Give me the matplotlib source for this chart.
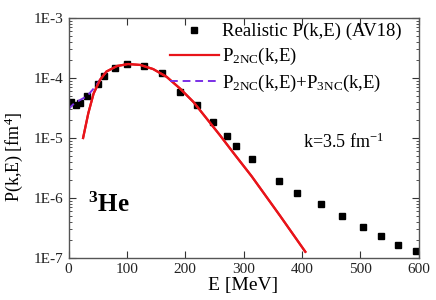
import matplotlib
matplotlib.use("Agg")
import matplotlib.pyplot as plt

plt.rcParams['font.family'] = ['Liberation Serif', 'DejaVu Serif']
plt.rcParams['mathtext.fontset'] = 'custom'
plt.rcParams['mathtext.rm'] = 'Liberation Serif'
plt.rcParams['mathtext.it'] = 'Liberation Serif:italic'
plt.rcParams['mathtext.bf'] = 'Liberation Serif:bold'

# realistic P(k,E) (AV18) points
e_real = [5, 12, 20, 32, 50, 61, 79, 100, 130, 160, 191, 221, 247, 271, 287,
          314, 361, 392, 432, 468, 505, 536, 564, 596]
p_real = [4.0e-5, 3.6e-5, 3.8e-5, 5.1e-5, 7.85e-5, 1.08e-4, 1.45e-4, 1.73e-4,
          1.6e-4, 1.2e-4, 5.9e-5, 3.5e-5, 1.87e-5, 1.1e-5, 7.4e-6,
          4.4e-6, 1.92e-6, 1.23e-6, 7.9e-7, 5.0e-7, 3.3e-7, 2.3e-7, 1.67e-7, 1.29e-7]

# P2NC curve
e_2nc = [25, 34, 43, 54, 65, 83, 102, 123, 145, 168, 191, 214, 237, 260, 283, 314, 363, 406]
p_2nc = [1.0e-5, 2.6e-5, 5.5e-5, 9.3e-5, 1.28e-4, 1.58e-4, 1.71e-4, 1.65e-4,
         1.41e-4, 1.05e-4, 6.7e-5, 4.0e-5, 2.1e-5, 1.1e-5, 5.6e-6, 2.3e-6, 5.0e-7, 1.27e-7]

# P2NC + P3NC (low-E part, merges with P2NC above)
e_23 = [0, 5, 10, 20, 32, 45, 54, 65]
p_23 = [3.0e-5, 3.4e-5, 3.8e-5, 4.3e-5, 5.0e-5, 7.0e-5, 9.3e-5, 1.28e-4]

fig = plt.figure(figsize=(4.36, 3.0), dpi=100)
ax = fig.add_axes([68.5/436, 42/300, 350/436, 240/300])

ax.plot(e_real, p_real, 's', color='black', ms=4.5, label='Realistic P(k,E) (AV18)')
ax.plot(e_2nc, p_2nc, '-', color='#e8141a', lw=1.6, label=r'P$_{\mathrm{2NC}}$(k,E)')
ax.plot(e_23, p_23, '--', color='#7a2fe6', lw=1.4, dashes=(4, 2.5),
        label=r'P$_{\mathrm{2NC}}$(k,E)+P$_{\mathrm{3NC}}$(k,E)')
# redraw red on top
ax.plot(e_2nc, p_2nc, '-', color='#e8141a', lw=1.6)

ax.set_yscale('log')
ax.set_xlim(0, 600)
ax.set_ylim(1e-7, 1e-3)
ax.set_xticks([0, 100, 200, 300, 400, 500, 600])
ax.set_yticks([1e-7, 1e-6, 1e-5, 1e-4, 1e-3])
ax.set_yticklabels(['1E-7', '1E-6', '1E-5', '1E-4', '1E-3'])
ax.tick_params(which='both', direction='in', top=True, right=True, labelsize=11, colors='#333333')
ax.tick_params(which='major', length=5)
ax.tick_params(which='minor', length=2.5)
for s in ax.spines.values():
    s.set_color('#555555')
    s.set_linewidth(1.0)
ax.tick_params(labelcolor='#222222')

ax.set_xlabel('E [MeV]', fontsize=14, labelpad=1)
ax.set_ylabel(r'P(k,E) [fm$^4$]', fontsize=13)
ax.yaxis.set_label_coords(-0.125, 0.42)

ax.legend(loc='upper left', bbox_to_anchor=(0.268, 1.01), frameon=False, fontsize=13.5,
          handlelength=2.6, handletextpad=0.2, labelspacing=0.3, borderaxespad=0)

ax.text(0.67, 0.46, r'k=3.5 fm$^{-1}$', transform=ax.transAxes, fontsize=13)
ax.text(0.055, 0.19, r'$^{\mathbf{3}}$He', transform=ax.transAxes, fontsize=18, fontweight='bold')

fig.savefig('out.png', dpi=100)
